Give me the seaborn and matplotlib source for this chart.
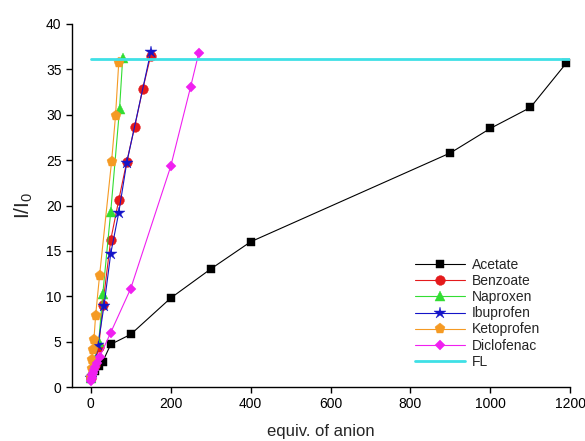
import numpy as np
import pandas as pd
import matplotlib
matplotlib.use("Agg")
import matplotlib.pyplot as plt
import seaborn as sns

# ---- data ----
acetate_x = [0, 10, 20, 30, 50, 100, 200, 300, 400, 900, 1000, 1100, 1190]
acetate_y = [1.0, 1.8, 2.3, 2.8, 4.7, 5.8, 9.8, 13.0, 16.0, 25.8, 28.5, 30.8, 35.7]

benzoate_x = [0, 10, 20, 30, 50, 70, 90, 110, 130, 150]
benzoate_y = [1.0, 2.4, 4.4, 9.0, 16.2, 20.6, 24.8, 28.7, 32.8, 36.5]

naproxen_x = [0, 5, 10, 20, 30, 50, 72, 80]
naproxen_y = [1.0, 2.0, 3.0, 5.0, 10.2, 19.3, 30.6, 36.3]

ibuprofen_x = [0, 10, 18, 33, 50, 70, 90, 150]
ibuprofen_y = [1.0, 2.6, 4.6, 8.9, 14.7, 19.2, 24.7, 36.9]

ketoprofen_x = [0, 2, 4, 6, 8, 12, 22, 52, 62, 70]
ketoprofen_y = [1.0, 2.0, 3.0, 4.1, 5.2, 7.8, 12.25, 24.8, 29.9, 35.7]

diclofenac_x = [0, 2, 4, 6, 8, 10, 15, 22, 50, 100, 200, 250, 270]
diclofenac_y = [0.7, 1.0, 1.3, 1.6, 1.9, 2.2, 2.7, 3.3, 6.0, 10.85, 24.3, 33.1, 36.75]

fl_x = [0, 1200]
fl_y = [36.1, 36.1]

series_names = ["Acetate", "Benzoate", "Naproxen", "Ibuprofen", "Ketoprofen", "Diclofenac"]
xticks = [0, 200, 400, 600, 800, 1000, 1200]
yticks = [0, 5, 10, 15, 20, 25, 30, 35, 40]

# ---- style ----
sns.set_theme(style="ticks")
plt.rcParams["font.family"] = ["Liberation Sans", "DejaVu Sans"]

fig = plt.figure(figsize=(5.85, 4.41), dpi=100)
ax = fig.add_axes([0.123, 0.1224, 0.852, 0.8232])

data = {
    "Acetate": (acetate_x, acetate_y),
    "Benzoate": (benzoate_x, benzoate_y),
    "Naproxen": (naproxen_x, naproxen_y),
    "Ibuprofen": (ibuprofen_x, ibuprofen_y),
    "Ketoprofen": (ketoprofen_x, ketoprofen_y),
    "Diclofenac": (diclofenac_x, diclofenac_y),
}
styles = {
    "Acetate": dict(color="black", marker="s", ms=6),
    "Benzoate": dict(color="#e41a1c", marker="o", ms=7),
    "Naproxen": dict(color="#33dd33", marker="^", ms=7),
    "Ibuprofen": dict(color="#1414c8", marker="*", ms=9),
    "Ketoprofen": dict(color="#f59a23", marker="p", ms=8),
    "Diclofenac": dict(color="#f020f0", marker="D", ms=5.5),
}

for name in series_names:
    xs, ys = data[name]
    df = pd.DataFrame({"x": xs, "y": ys})
    st = styles[name]
    sns.lineplot(data=df, x="x", y="y", ax=ax, color=st["color"], marker=st["marker"],
                 markersize=st["ms"], markeredgewidth=0.3, markeredgecolor=st["color"],
                 linewidth=0.8, sort=False, label=name, legend=False)

fl_df = pd.DataFrame({"x": fl_x, "y": fl_y})
sns.lineplot(data=fl_df, x="x", y="y", ax=ax, color="#3fe0e6", linewidth=2.0,
             label="FL", legend=False)

ax.set_xlim(-47, 1200)
ax.set_ylim(0, 40)
ax.set_xticks(xticks)
ax.set_yticks(yticks)
ax.tick_params(axis="both", labelsize=10, length=4, width=1, direction="out", colors="black")
for s in ["top", "right"]:
    ax.spines[s].set_visible(False)
for s in ["left", "bottom"]:
    ax.spines[s].set_linewidth(1.0)
    ax.spines[s].set_color("black")

ax.set_xlabel("equiv. of anion", fontsize=12, labelpad=9)
ax.set_ylabel("I/I$_\\mathregular{0}$", fontsize=15, labelpad=8)

handles, labels = ax.get_legend_handles_labels()
leg = ax.legend(handles, labels, loc="upper left", bbox_to_anchor=(0.688, 0.355),
                frameon=False, fontsize=10, handlelength=3.6, handletextpad=0.5,
                labelspacing=0.15, borderpad=0, borderaxespad=0)

fig.savefig("out.png", dpi=100)
